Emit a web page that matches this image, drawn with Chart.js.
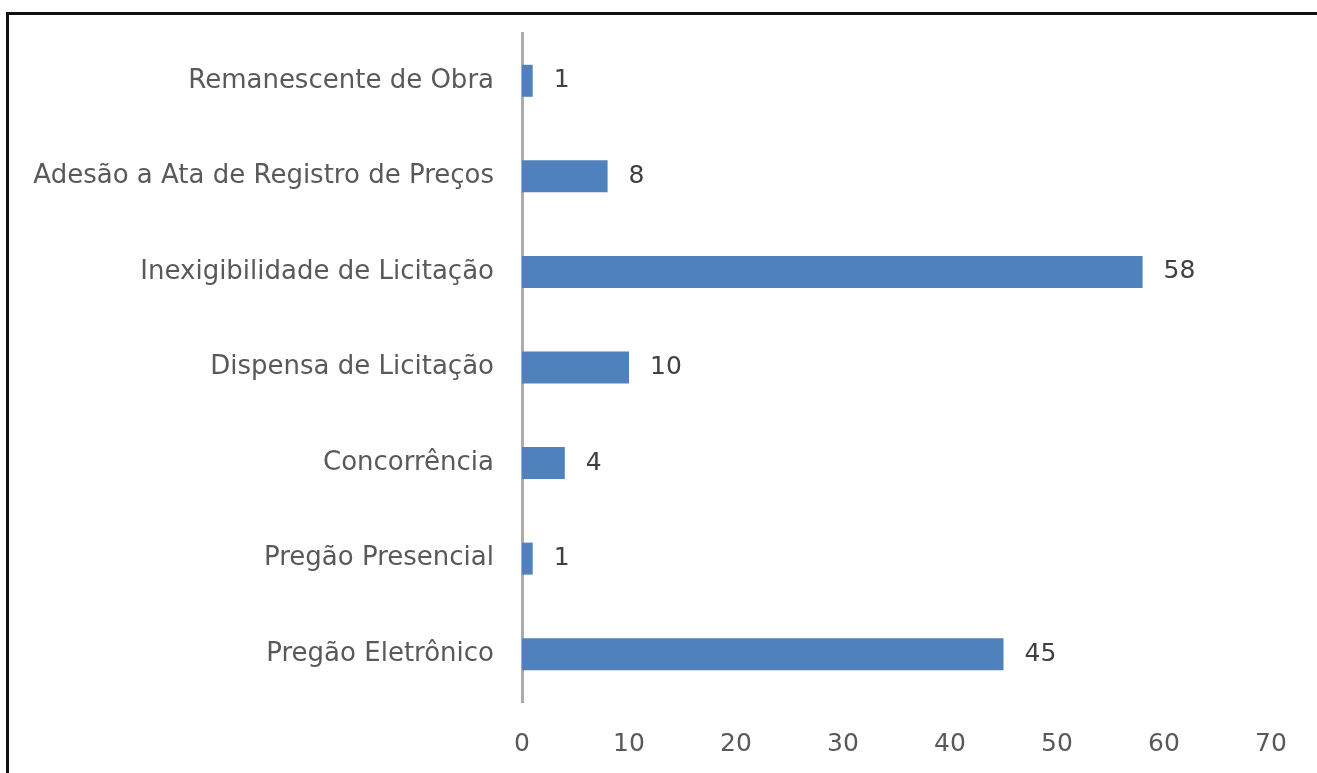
<!DOCTYPE html>
<html>
<head>
<meta charset="utf-8">
<script src="https://cdn.jsdelivr.net/npm/chart.js@4.4.0/dist/chart.umd.min.js"></script>
<style>
  html, body { margin: 0; padding: 0; background: #fff; }
  #wrap { position: relative; width: 1317px; height: 773px; overflow: hidden; }
  #frame { position: absolute; left: 6px; top: 12px; right: -10px; bottom: -10px;
           border-top: 3px solid #111; border-left: 3px solid #111; pointer-events: none; }
</style>
</head>
<body>
<div id="wrap">
  <canvas id="grafico"></canvas>
  <div id="frame"></div>
</div>
<script>
// categorias de cima para baixo, como aparecem no gráfico
const categorias = [
    'Remanescente de Obra',
    'Adesão a Ata de Registro de Preços',
    'Inexigibilidade de Licitação',
    'Dispensa de Licitação',
    'Concorrência',
    'Pregão Presencial',
    'Pregão Eletrônico'
];
const quantidades = [1, 8, 58, 10, 4, 1, 45];
const eixoX = { min: 0, max: 70, passo: 10 };

const fonte = { family: '"DejaVu Sans", sans-serif', size: 26 };

// escreve o valor à direita de cada barra
const rotulosBarras = {
    id: 'rotulosBarras',
    afterDatasetsDraw(chart) {
        const ctx = chart.ctx;
        const meta = chart.getDatasetMeta(0);
        ctx.save();
        ctx.font = (fonte.size - 1) + 'px ' + fonte.family;
        ctx.fillStyle = '#404040';
        ctx.textAlign = 'left';
        ctx.textBaseline = 'middle';
        meta.data.forEach((barra, i) => {
            ctx.fillText(String(quantidades[i]), barra.x + 21, barra.y);
        });
        ctx.restore();
    }
};

const ctx = document.getElementById('grafico').getContext('2d');
new Chart(ctx, {
    type: 'bar',
    data: {
        labels: categorias,
        datasets: [{
            data: quantidades,
            backgroundColor: '#4f81bd',
            borderWidth: 0,
            barPercentage: 0.335,
            categoryPercentage: 1
        }]
    },
    options: {
        indexAxis: 'y',
        responsive: true,
        maintainAspectRatio: false,
        animation: false,
        layout: { padding: { top: 33, right: 46, left: 0, bottom: 0 } },
        plugins: {
            legend: { display: false },
            tooltip: { enabled: false }
        },
        scales: {
            x: {
                min: eixoX.min,
                max: eixoX.max,
                grid: { display: false, drawTicks: false },
                border: { display: false },
                ticks: { stepSize: eixoX.passo, color: '#595959', font: { family: fonte.family, size: 25 }, padding: 27 },
                afterFit(scale) { scale.height = 71; }
            },
            y: {
                grid: { display: false, drawTicks: false },
                border: { display: true, color: '#ababab', width: 3 },
                ticks: { color: '#595959', font: fonte, padding: 28 },
                afterFit(scale) {
                    scale.width = 522;
                    scale.paddingTop = 0;
                    scale.paddingBottom = 0;
                }
            }
        }
    },
    plugins: [rotulosBarras]
});
</script>
</body>
</html>
